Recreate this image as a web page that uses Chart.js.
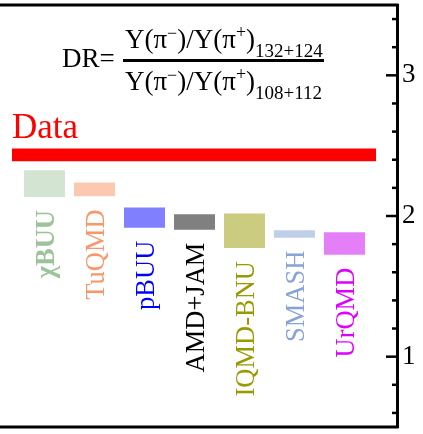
<!DOCTYPE html>
<html>
<head>
<meta charset="utf-8">
<script src="https://cdn.jsdelivr.net/npm/chart.js@4.4.1/dist/chart.umd.min.js"></script>
<style>
  html, body { margin: 0; padding: 0; background: #ffffff; }
  #wrap { width: 423px; height: 434px; position: relative; }
</style>
</head>
<body>
<div id="wrap"><canvas id="dr"></canvas></div>
<script>
// Double ratio DR predicted by each transport model (range low..high)
const models = ['χBUU', 'TuQMD', 'pBUU', 'AMD+JAM', 'IQMD-BNU', 'SMASH', 'UrQMD'];
const drLow  = [2.135, 2.140, 1.917, 1.903, 1.772, 1.846, 1.725];
const drHigh = [2.325, 2.239, 2.060, 2.012, 2.017, 1.898, 1.884];

// Measured value band
const dataLow  = 2.39;
const dataHigh = 2.48;
const dataSpan = [-0.65, 6.63];

// Axis ticks
const yTicks = [1, 2, 3];
const yMinorStep = 0.2;

const boxColors   = ['#d3e4d2', '#fdc8b0', '#8080ff', '#808080', '#cccc80', '#c0cfe8', '#e47ff7'];
const labelColors = ['#9cc399', '#f7976c', '#0000ff', '#000000', '#999900', '#88a3d5', '#e000ff'];

const SERIF = '"Liberation Serif", "Times New Roman", serif';

// Frame lines, inward ticks, DR formula and model names
const decorations = {
  id: 'decorations',
  afterDraw(chart) {
    const { ctx, chartArea, scales } = chart;
    const ys = scales.y, xs = scales.x;
    ctx.save();
    ctx.strokeStyle = '#000';
    ctx.lineWidth = 3;
    ctx.beginPath();
    ctx.moveTo(0, chartArea.top);
    ctx.lineTo(chartArea.right + 1.5, chartArea.top);
    ctx.moveTo(0, chartArea.bottom);
    ctx.lineTo(chartArea.right + 1.5, chartArea.bottom);
    ctx.stroke();

    // tick marks on the inner side of the right axis
    ctx.lineWidth = 2.5;
    const n0 = Math.ceil(ys.min / yMinorStep + 1e-6);
    const n1 = Math.floor(ys.max / yMinorStep - 1e-6);
    for (let n = n0; n <= n1; n++) {
      const v = n * yMinorStep;
      const major = yTicks.some(t => Math.abs(t - v) < 1e-6);
      const py = ys.getPixelForValue(v);
      ctx.beginPath();
      ctx.moveTo(chartArea.right - (major ? 11 : 5), py);
      ctx.lineTo(chartArea.right, py);
      ctx.stroke();
    }

    // "Data" caption
    ctx.fillStyle = '#ff0000';
    ctx.font = '35px ' + SERIF;
    ctx.textBaseline = 'alphabetic';
    ctx.textAlign = 'left';
    ctx.fillText('Data', 12, 138);

    // DR formula
    ctx.fillStyle = '#000';
    const runs = (x, y, parts) => {
      for (const p of parts) {
        ctx.font = p.s + 'px ' + SERIF;
        ctx.fillText(p.t, x, y + (p.dy || 0));
        x += ctx.measureText(p.t).width;
      }
      return x;
    };
    runs(62, 67, [{ t: 'DR=', s: 27 }]);
    const num = [
      { t: 'Y(π', s: 27 }, { t: '−', s: 18, dy: -9 }, { t: ')/Y(π', s: 27 },
      { t: '+', s: 18, dy: -10 }, { t: ')', s: 27 }, { t: '132+124', s: 19, dy: 9 }
    ];
    const den = [
      { t: 'Y(π', s: 27 }, { t: '−', s: 18, dy: -9 }, { t: ')/Y(π', s: 27 },
      { t: '+', s: 18, dy: -10 }, { t: ')', s: 27 }, { t: '108+112', s: 19, dy: 9 }
    ];
    runs(125, 48, num);
    runs(125, 90, den);
    ctx.fillRect(123, 59, 201, 3);

    // rotated model names under each box
    models.forEach((name, i) => {
      const px = xs.getPixelForValue(i);
      const py = ys.getPixelForValue(drLow[i]) + 13;
      ctx.save();
      ctx.translate(px, py);
      ctx.rotate(-Math.PI / 2);
      ctx.fillStyle = labelColors[i];
      ctx.font = (i === 0 ? 'bold ' : '') + '26.5px ' + SERIF;
      ctx.textAlign = 'right';
      ctx.textBaseline = 'alphabetic';
      ctx.fillText(name, 0, 9);
      ctx.restore();
    });
    ctx.restore();
  }
};

new Chart(document.getElementById('dr'), {
  data: {
    datasets: [
      {
        type: 'bar',
        data: models.map((m, i) => ({ x: i, y: [drLow[i], drHigh[i]] })),
        backgroundColor: boxColors,
        borderWidth: 0,
        barPercentage: 0.82,
        categoryPercentage: 1
      },
      {
        type: 'line',
        data: dataSpan.map(x => ({ x, y: dataLow })),
        borderColor: 'transparent',
        pointRadius: 0,
        fill: false
      },
      {
        type: 'line',
        data: dataSpan.map(x => ({ x, y: dataHigh })),
        borderColor: 'transparent',
        backgroundColor: '#ff0000',
        pointRadius: 0,
        fill: '-1'
      }
    ]
  },
  options: {
    responsive: true,
    maintainAspectRatio: false,
    animation: false,
    devicePixelRatio: 1,
    layout: { autoPadding: false, padding: { top: 5, bottom: 7, left: 0, right: 0 } },
    plugins: { legend: { display: false }, tooltip: { enabled: false } },
    scales: {
      x: {
        type: 'linear',
        display: false,
        offset: false,
        grid: { offset: false },
        min: -0.89,
        max: 7.05
      },
      y: {
        type: 'linear',
        position: 'right',
        min: 0.5,
        max: 3.5,
        afterBuildTicks(scale) { scale.ticks = yTicks.map(v => ({ value: v })); },
        afterFit(scale) { scale.width = 26; scale.paddingTop = 0; scale.paddingBottom = 0; },
        grid: { display: false, drawTicks: false },
        border: { display: true, color: '#000', width: 3 },
        ticks: {
          padding: 5,
          color: '#000',
          font: { family: SERIF, size: 27 },
          callback: v => String(v)
        }
      }
    }
  },
  plugins: [decorations]
});
</script>
</body>
</html>
